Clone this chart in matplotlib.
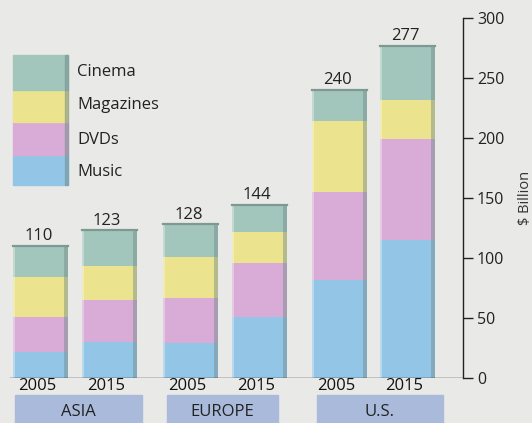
import matplotlib
matplotlib.use("Agg")
import matplotlib.pyplot as plt
from matplotlib.patches import Rectangle
import numpy as np

plt.rcParams['font.family'] = ['Open Sans', 'DejaVu Sans']

regions = ["ASIA", "EUROPE", "U.S."]
years = ["2005", "2015"]
categories = ["Music", "DVDs", "Magazines", "Cinema"]
# values per bar, order: Asia 2005, Asia 2015, Europe 2005, Europe 2015, U.S. 2005, U.S. 2015
music = [22, 30, 29, 51, 82, 115]
dvds = [29, 35, 38, 45, 73, 84]
magazines = [33, 28, 34, 26, 59, 33]
cinema = [26, 30, 27, 22, 26, 45]
totals = [110, 123, 128, 144, 240, 277]

colors = {"Music": "#93c6e6", "DVDs": "#d8acd6", "Magazines": "#ebe38e", "Cinema": "#a2c6bb"}
bg = "#e9e9e7"

fig = plt.figure(figsize=(5.32, 4.23), dpi=100, facecolor=bg)
W, H = 532, 423
ax = fig.add_axes([0, (H - 378) / H, 463 / W, (378 - 18) / H])
ax.set_facecolor(bg)
ax.set_xlim(0, 463)
ax.set_ylim(0, 300)

group_starts = [40.5, 190.5, 339.0]
gap = 68.5
xs = []
for g in group_starts:
    xs += [g, g + gap]
xs = np.array(xs)
bw = 55

series = {"Music": music, "DVDs": dvds, "Magazines": magazines, "Cinema": cinema}
bottom = np.zeros(len(xs))
for cat in categories:
    vals = np.array(series[cat], dtype=float)
    ax.bar(xs, vals, bw, bottom=bottom, color=colors[cat], edgecolor="none", zorder=2)
    bottom += vals

# shaded sides and top rim for a slight 3D look
for x, t in zip(xs, bottom):
    ax.bar(x + bw / 2 - 2, t, 4, color="#6f8a8a", alpha=0.45, edgecolor="none", zorder=3)
    ax.bar(x - bw / 2 + 1, t, 2, color="#ffffff", alpha=0.35, edgecolor="none", zorder=3)
    ax.plot([x - bw / 2, x + bw / 2], [t, t], color="#7e9894", lw=1.6, zorder=4)

for x, t in zip(xs, totals):
    ax.text(x - 2, t + 1.5, str(t), ha="center", va="bottom", fontsize=12, color="#222222")

# axes styling
for s in ["top", "left", "bottom"]:
    ax.spines[s].set_visible(False)
ax.spines["right"].set_color("#222222")
ax.spines["right"].set_linewidth(1.0)
ax.axhline(0, xmin=10 / 463, xmax=1, color="#222222", lw=1.0, zorder=5)
ax.yaxis.tick_right()
ax.set_yticks(range(0, 301, 50))
ax.tick_params(axis="y", direction="out", length=7, width=1.0, colors="#222222",
               labelsize=11.5, pad=3)
ax.set_xticks(xs - 3)
ax.set_xticklabels(years * 3)
ax.tick_params(axis="x", length=0, labelsize=12, pad=0, colors="#111111")
ax.yaxis.set_label_position("right")
ax.set_ylabel("$ Billion", fontsize=10.5, color="#333333", labelpad=10, rotation=90)

# region label boxes
boxes = [(15, 142), (167, 278), (317, 443)]
for (x0, x1), name in zip(boxes, regions):
    fig.patches.append(Rectangle((x0 / W, 0), (x1 - x0) / W, (423 - 395) / H,
                                 transform=fig.transFigure, color="#a9bada", zorder=0))
    fig.text((x0 + x1) / 2 / W, (423 - 412) / H, name, ha="center", va="center",
             fontsize=12, color="#222222")

# legend: stacked swatch with labels
sw_x0, sw_x1 = 13, 68
sw_edges = [185, 155, 122, 90, 55]
for i, cat in enumerate(categories):
    y0, y1 = sw_edges[i], sw_edges[i + 1]
    fig.patches.append(Rectangle((sw_x0 / W, (H - y0) / H), (sw_x1 - sw_x0) / W, (y0 - y1) / H,
                                 transform=fig.transFigure, color=colors[cat], zorder=1))
fig.patches.append(Rectangle(((sw_x1 - 3) / W, (H - 185) / H), 3 / W, 130 / H,
                             transform=fig.transFigure, color="#6f8a8a", alpha=0.45, zorder=2))
label_y = {"Cinema": 72, "Magazines": 105, "DVDs": 140, "Music": 172}
for cat in categories:
    fig.text(77 / W, (H - label_y[cat]) / H, cat, ha="left", va="center",
             fontsize=12, color="#222222")

fig.savefig("out.png", dpi=100, facecolor=bg)
